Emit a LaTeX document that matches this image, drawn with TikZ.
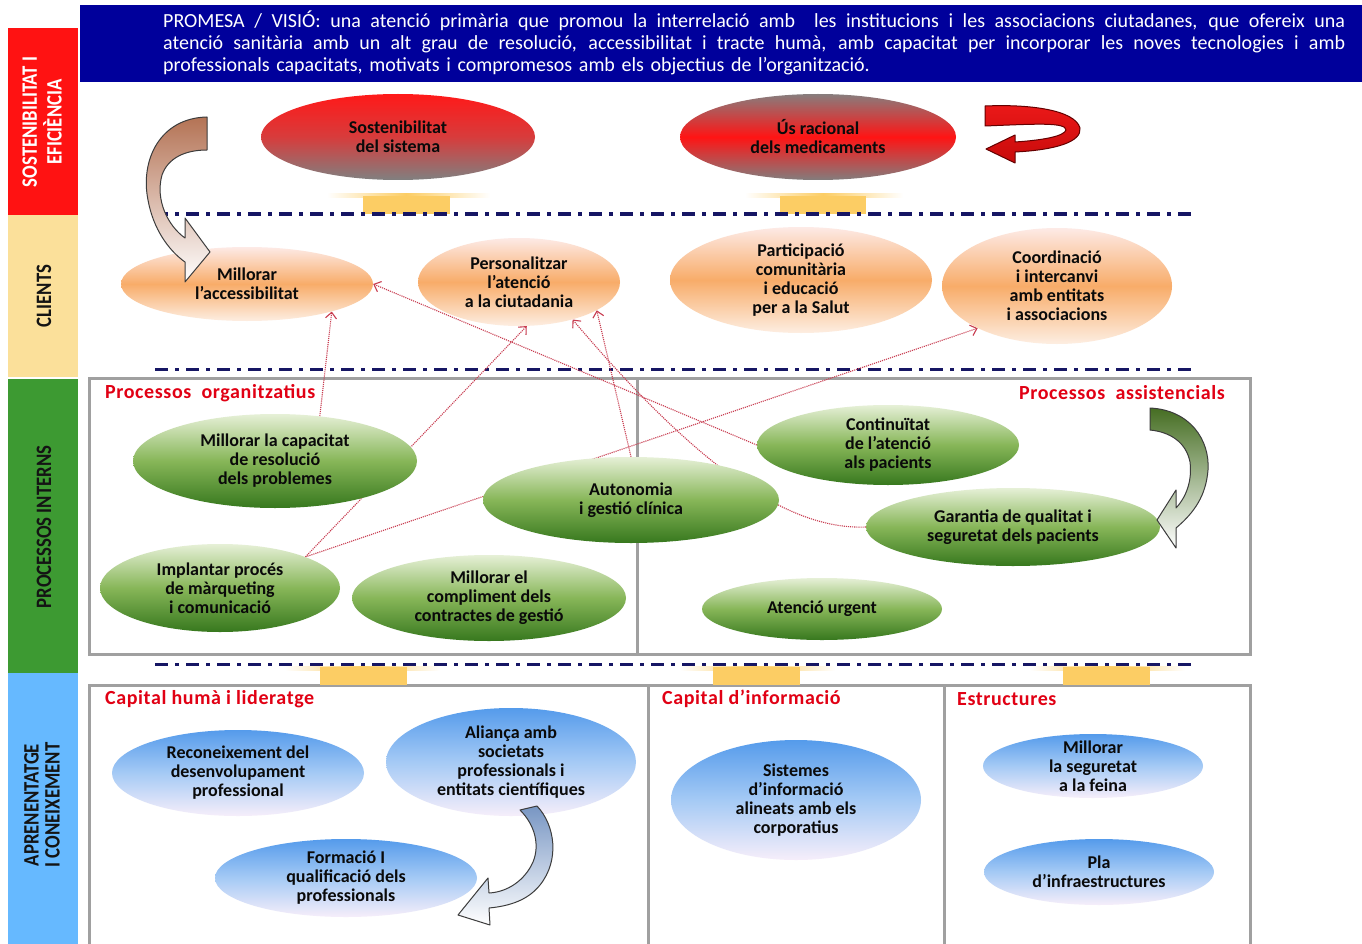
\documentclass[tikz,border=0pt]{standalone}
\usepackage{graphicx}
\usepackage{fontspec}
\setmainfont{Carlito}
\usetikzlibrary{shapes.geometric,arrows.meta,calc}
\definecolor{hdrblue}{RGB}{0,0,155}
\definecolor{bandred}{RGB}{255,18,18}
\definecolor{bandyellow}{RGB}{251,224,154}
\definecolor{bandgreen}{RGB}{61,154,50}
\definecolor{bandblue}{RGB}{102,185,255}
\definecolor{navy}{RGB}{22,22,100}
\definecolor{framegray}{RGB}{160,160,160}
\definecolor{gold}{RGB}{252,205,100}
\definecolor{secred}{RGB}{225,0,20}
\definecolor{connred}{RGB}{200,60,80}
\definecolor{ink}{RGB}{10,10,10}
\definecolor{bandink}{RGB}{20,20,20}
\newcommand\ellfont{\fontsize{18}{19}\selectfont\bfseries}
\newcommand\hdrfont{\fontsize{20}{22}\selectfont}
\newcommand\stretchline[1]{\leavevmode\hbox to 1182pt{\spaceskip=0.22em plus 3em minus 0.08em\relax #1}}
\newcommand\secfont{\fontsize{20}{22}\selectfont\bfseries\addfontfeatures{LetterSpace=3}}
\newcommand\bandfont{\fontsize{22}{21}\selectfont\bfseries}
\pgfdeclarelayer{bg}
\pgfdeclarelayer{conn}
\pgfsetlayers{bg,conn,main}
\tikzset{
  ell/.style={ellipse, inner xsep=0pt, inner ysep=-14pt, align=center, font=\ellfont, text=ink},
  esz/.style 2 args={minimum width=#1pt, minimum height=#2pt},
  redA/.style={ell, top color={rgb,255:red,255;green,25;blue,25}, bottom color={rgb,255:red,128;green,128;blue,128}, middle color={rgb,255:red,215;green,60;blue,60}},
  redB/.style={ell, top color={rgb,255:red,135;green,125;blue,125}, bottom color={rgb,255:red,130;green,125;blue,125}, middle color={rgb,255:red,255;green,20;blue,20}},
  orange/.style={ell, top color={rgb,255:red,253;green,234;blue,230}, bottom color={rgb,255:red,253;green,238;blue,226}, middle color={rgb,255:red,248;green,172;blue,105}},
  greenell/.style={ell, top color={rgb,255:red,230;green,240;blue,215}, bottom color={rgb,255:red,55;green,120;blue,30}, middle color={rgb,255:red,135;green,182;blue,88}},
  blueell/.style={ell, top color={rgb,255:red,85;green,155;blue,235}, bottom color={rgb,255:red,246;green,238;blue,250}, middle color={rgb,255:red,165;green,202;blue,245}},
  conn/.style={draw=connred, line width=1.1pt, densely dotted, -{Straight Barb[length=6pt,width=11pt,line width=1.1pt]}},
  navydash/.style={draw=navy, line width=3pt, dash pattern=on 13pt off 7pt on 4pt off 7pt},
  frame/.style={draw=framegray, line width=3pt},
  seclabel/.style={font=\secfont, text=secred, inner sep=0pt},
  bandtxt/.style={rotate=90, inner sep=0pt, font=\bandfont},
  blockarrow/.style={draw={rgb,255:red,60;green,60;blue,60}, line width=1pt, line join=round}
}
\begin{document}
\begin{tikzpicture}[x=1pt,y=-1pt]
\useasboundingbox (0,0) rectangle (1362,944);

\begin{pgfonlayer}{bg}
\fill[white] (0,0) rectangle (1362,944);
% left bands
\fill[bandred] (8,28) rectangle (78,215);
\fill[bandyellow] (8,215) rectangle (78,377);
\fill[bandgreen] (8,379) rectangle (78,673);
\fill[bandblue] (8,673) rectangle (78,944);
% header
\fill[hdrblue] (80,5) rectangle (1362,82);
% frames
\draw[frame] (89,378) rectangle (1250,654);
\draw[frame] (637,378) -- (637,654);
\draw[frame] (89,944) -- (89,685) -- (1250,685) -- (1250,944);
\draw[frame] (648,685) -- (648,944);
\draw[frame] (944,685) -- (944,944);
% gold bars
\shade[left color=white, right color=gold] (327,194) rectangle (406,198);
\shade[left color=gold, right color=white] (406,194) rectangle (490,198);
\fill[gold] (363,196) rectangle (450,214);
\shade[left color=white, right color=gold] (745,194) rectangle (823,198);
\shade[left color=gold, right color=white] (823,194) rectangle (903,198);
\fill[gold] (780,196) rectangle (866,214);
\shade[left color=white, right color=gold] (285,666) rectangle (363,670);
\shade[left color=gold, right color=white] (363,666) rectangle (440,670);
\fill[gold] (320,667) rectangle (407,685);
\shade[left color=white, right color=gold] (680,666) rectangle (756,670);
\shade[left color=gold, right color=white] (756,666) rectangle (835,670);
\fill[gold] (713,667) rectangle (800,685);
\shade[left color=white, right color=gold] (1030,666) rectangle (1106,670);
\shade[left color=gold, right color=white] (1106,666) rectangle (1185,670);
\fill[gold] (1063,667) rectangle (1150,685);
% dash-dot lines
\draw[navydash] (155,214) -- (1195,214);
\draw[navydash] (155,369) -- (1195,369);
\draw[navydash] (155,664) -- (1195,664);
\end{pgfonlayer}

% band texts
\node[bandtxt, text=white] (b1) at (45,122) {\scalebox{0.85}[1]{\begin{tabular}{@{}c@{}}SOSTENIBILITAT I\\EFICIÈNCIA\end{tabular}}};
\node[bandtxt, text=bandink] (b2) at (44,296) {\scalebox{0.85}[1]{CLIENTS}};
\node[bandtxt, text=bandink] (b3) at (44,527) {\scalebox{0.85}[1]{PROCESSOS INTERNS}};
\node[bandtxt, text=bandink] (b4) at (45,805) {\scalebox{0.85}[1]{\begin{tabular}{@{}c@{}}APRENENTATGE\\I CONEIXEMENT\end{tabular}}};

% header text
\node[anchor=north west, inner sep=0pt, text width=1182pt, align=left, font=\hdrfont, text=white] (promesa) at (163,11)
{\stretchline{PROMESA / VISIÓ: una atenció primària que promou la interrelació amb \ les institucions i les associacions ciutadanes, que ofereix una}\\
\stretchline{atenció sanitària amb un alt grau de resolució, accessibilitat i tracte humà, amb capacitat per incorporar les noves tecnologies i amb}\\
professionals capacitats, motivats i compromesos amb els objectius de l’organització.};

% section labels
\node[seclabel, anchor=west] (s1) at (105,393) {Processos\ \ organitzatius};
\node[seclabel, anchor=east] (s2) at (1225,393) {Processos\ \ assistencials};
\node[seclabel, anchor=west] (s3) at (105,699) {Capital humà i lideratge};
\node[seclabel, anchor=west] (s4) at (662,699) {Capital d’informació};
\node[seclabel, anchor=west] (s5) at (957,699) {Estructures};

% top ellipses
\node[redA, esz={274}{86}] (sost) at (398,137) {Sostenibilitat\\del sistema};
\node[redB, esz={276}{86}] (us) at (818,137) {Ús racional\\dels medicaments};
% clients
\node[orange, esz={252}{74}] (acc) at (247,284) {Millorar\\l’accessibilitat};
\node[orange, esz={202}{88}] (pers) at (519,282) {Personalitzar\\l’atenció\\a la ciutadania};
\node[orange, esz={262}{106}] (part) at (801,280) {Participació\\comunitària\\i educació\\per a la Salut};
\node[orange, esz={230}{116}] (coord) at (1057,286) {Coordinació\\i intercanvi\\amb entitats\\i associacions};
% internal processes
\node[greenell, esz={284}{94}] (cap) at (275,461) {Millorar la capacitat\\de resolució\\dels problemes};
\node[greenell, esz={296}{86}] (auto) at (631,500) {Autonomia\\i gestió clínica};
\node[greenell, esz={240}{88}] (impl) at (220,588) {Implantar procés\\de màrqueting\\i comunicació};
\node[greenell, esz={274}{86}] (compl) at (489,598) {Millorar el\\compliment dels\\contractes de gestió};
\node[greenell, esz={262}{80}] (cont) at (888,445) {Continuïtat\\de l’atenció\\als pacients};
\node[greenell, esz={294}{78}] (gar) at (1013,527) {Garantia de qualitat i\\seguretat dels pacients};
\node[greenell, esz={240}{62}] (urg) at (822,609) {Atenció urgent};
% learning
\node[blueell, esz={252}{86}] (rec) at (238,773) {Reconeixement del\\desenvolupament\\professional};
\node[blueell, esz={250}{108}] (ali) at (511,762) {Aliança amb\\societats\\professionals i\\entitats científiques};
\node[blueell, esz={262}{78}] (form) at (346,878) {Formació I\\qualificació dels\\professionals};
\node[blueell, esz={250}{120}] (sis) at (796,800) {Sistemes\\d’informació\\alineats amb els\\corporatius};
\node[blueell, esz={220}{64}] (seg) at (1093,766) {Millorar\\la seguretat\\a la feina};
\node[blueell, esz={230}{66}] (pla) at (1099,872) {Pla\\d’infraestructures};

% dotted connectors (behind ellipses)
\begin{pgfonlayer}{conn}
\draw[conn] (cap.45) -- (acc.-18);
\draw[conn] (impl.20) -- (pers.-80);
\draw[conn] (impl.20) -- (coord.-152);
\draw[conn] (auto.north) -- (pers.-20);
\draw[conn] (gar.west) .. controls (790,530) and (700,470) .. (pers.-35);
\draw[conn] (cont.west) -- (acc.east);
\end{pgfonlayer}

% curved block arrows
\draw[blockarrow, top color={rgb,255:red,180;green,115;blue,85}, bottom color=white]
  (207,117) .. controls (160,118) and (140,160) .. (148,200)
  .. controls (153,228) and (168,250) .. (185,262)
  -- (185,282) -- (210,252) -- (185,218) -- (185,238)
  .. controls (168,226) and (155,200) .. (162,175)
  .. controls (168,158) and (185,150) .. (207,150) -- cycle;
\draw[blockarrow, top color={rgb,255:red,70;green,110;blue,35}, bottom color=white]
  (1150,408) .. controls (1190,410) and (1210,440) .. (1208,470)
  .. controls (1206,495) and (1195,512) .. (1176,528)
  -- (1176,548) -- (1157,520) -- (1176,490) -- (1176,508)
  .. controls (1188,495) and (1192,478) .. (1190,462)
  .. controls (1186,442) and (1170,432) .. (1150,430) -- cycle;
\draw[blockarrow, top color={rgb,255:red,120;green,150;blue,195}, bottom color=white]
  (520,810) -- (537,806) .. controls (555,825) and (560,860) .. (540,885)
  .. controls (528,900) and (510,906) .. (489,908)
  -- (490,925) -- (458,915) -- (488,878) -- (489,893)
  .. controls (508,892) and (525,880) .. (533,862)
  .. controls (540,845) and (535,825) .. (520,810) -- cycle;
\draw[blockarrow, draw={rgb,255:red,100;green,0;blue,0}, top color={rgb,255:red,235;green,25;blue,25}, bottom color={rgb,255:red,200;green,10;blue,10}]
  (985,106) .. controls (1030,104) and (1075,110) .. (1080,128)
  .. controls (1082,142) and (1055,150) .. (1015,152)
  -- (1015,163) -- (986,149) -- (1015,135) -- (1015,142)
  .. controls (1045,140) and (1064,136) .. (1066,130)
  .. controls (1066,122) and (1035,124) .. (985,126) -- cycle;
\end{tikzpicture}
\end{document}
